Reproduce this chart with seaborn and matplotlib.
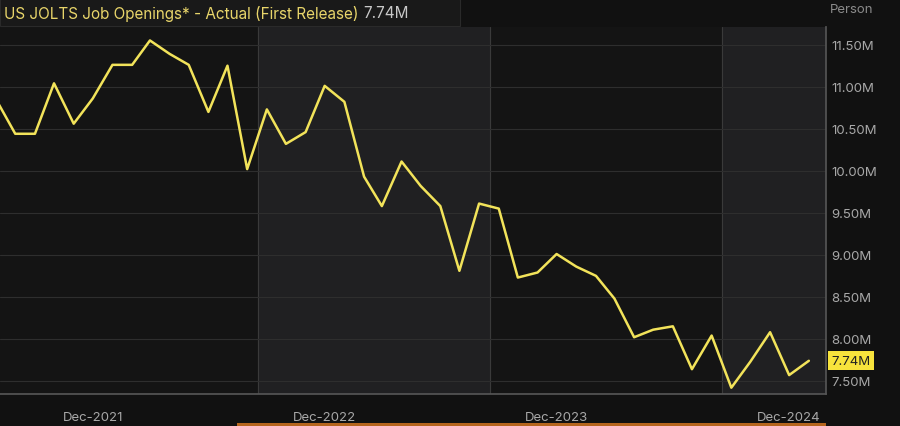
import numpy as np
import pandas as pd
import seaborn as sns
import matplotlib.pyplot as plt
from matplotlib.patches import Rectangle

# monthly first-release job openings, millions
months = pd.date_range('2021-07-01', '2025-01-01', freq='MS')
openings = [10.86, 10.44, 10.44, 11.04, 10.56, 10.86, 11.26, 11.26, 11.55, 11.39,
            11.26, 10.70, 11.25, 10.02, 10.73, 10.32, 10.46, 11.01, 10.82, 9.93,
            9.58, 10.11, 9.82, 9.58, 8.81, 9.61, 9.55, 8.73, 8.79, 9.01,
            8.86, 8.75, 8.48, 8.02, 8.11, 8.15, 7.64, 8.04, 7.42, 7.73,
            8.08, 7.57, 7.74]
ytick_vals = [7.5, 8.0, 8.5, 9.0, 9.5, 10.0, 10.5, 11.0, 11.5]
xtick_labels = ['Dec-2021', 'Dec-2022', 'Dec-2023', 'Dec-2024']

df = pd.DataFrame({'month': months, 'openings': openings})

sns.set_theme(style='dark')
plt.rcParams['font.family'] = ['Inter', 'DejaVu Sans']

W, H = 900, 427
fig = plt.figure(figsize=(9, 4.27), dpi=100, facecolor='#111111')
ax = fig.add_axes([0, (H - 395) / H, 826 / W, (395 - 28) / H])
ax.set_facecolor('#141414')

ax.set_xlim(pd.Timestamp('2021-07-08'), pd.Timestamp('2025-01-28'))
ax.set_ylim(7.345, 11.71)

# alternating year bands
for a, b in [('2022-08-18', '2023-08-18'), ('2024-08-18', '2025-02-01')]:
    ax.axvspan(pd.Timestamp(a), pd.Timestamp(b), color='#202022', zorder=0)
    ax.axvline(pd.Timestamp(a), color='#3a3a3a', lw=0.8, zorder=0.5)
ax.axvline(pd.Timestamp('2023-08-18'), color='#3a3a3a', lw=0.8, zorder=0.5)

for v in ytick_vals:
    ax.axhline(v, color='#2e2e2e', lw=0.8, zorder=0.6)

sns.lineplot(data=df, x='month', y='openings', ax=ax, color='#f2e35a', lw=1.8, zorder=3)

ax.set_xlabel('')
ax.set_ylabel('')
ax.grid(False)
ax.yaxis.tick_right()
ax.set_yticks(ytick_vals)
ax.set_yticklabels([f'{v:.2f}M' for v in ytick_vals], color='#a8a8a8', fontsize=9.5)
ax.set_xticks([pd.Timestamp(f'{y}-12-01') for y in (2021, 2022, 2023, 2024)])
ax.set_xticklabels(xtick_labels, color='#a8a8a8', fontsize=9.5)
ax.tick_params(axis='x', length=4, color='#666666', pad=8)
ax.tick_params(axis='y', length=0, pad=4)
for s in ax.spines.values():
    s.set_visible(False)
ax.spines['right'].set_visible(True)
ax.spines['right'].set_color('#555555')
ax.spines['bottom'].set_visible(True)
ax.spines['bottom'].set_color('#555555')

# last value tag
ax.annotate(f'{openings[-1]:.2f}M', xy=(1.0, openings[-1]), xycoords=('axes fraction', 'data'),
            xytext=(4, 0), textcoords='offset points', va='center', ha='left',
            fontsize=9.5, color='#222222',
            bbox=dict(boxstyle='square,pad=0.25', fc='#f7e33c', ec='none'))

# header bar
fig.patches.append(Rectangle((0, (H - 27) / H), 460 / W, 27 / H, transform=fig.transFigure,
                             fc='#191919', ec='#2a2a2a', lw=0.8, zorder=5))
fig.text(4 / W, (H - 14) / H, 'US JOLTS Job Openings* - Actual (First Release)',
         color='#e8d56a', fontsize=11, va='center', zorder=6)
fig.text(363 / W, (H - 14) / H, f'{openings[-1]:.2f}M', color='#c8c8c8',
         fontsize=11, va='center', zorder=6)
fig.text(830 / W, (H - 10) / H, 'Person', color='#8a8a8a', fontsize=9.5, va='center')

# scrollbar strip
fig.patches.append(Rectangle((237 / W, 0), (826 - 237) / W, 3 / H, transform=fig.transFigure,
                             fc='#b5651d', ec='none'))

fig.savefig('out.png', dpi=100, facecolor=fig.get_facecolor())
